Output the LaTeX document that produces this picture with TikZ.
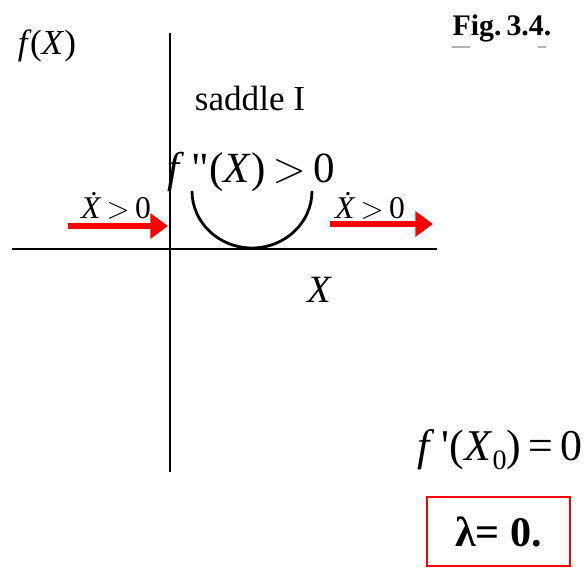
\documentclass[tikz,border=0pt]{standalone}
\usepackage{fontspec}
\setmainfont{Liberation Serif}
\usepackage{xcolor}
\usetikzlibrary{arrows.meta,positioning}

\begin{document}
\begin{tikzpicture}[
x=0.02cm, y=-0.02cm,
axis/.style={line width=1.6pt},
lbl/.style={inner sep=0pt, font=\fontsize{20}{22}\selectfont},
biglbl/.style={inner sep=0pt, font=\fontsize{24.5}{27}\selectfont},
ratelbl/.style={inner sep=0pt, font=\fontsize{18}{20}\selectfont},
flow/.style={-{Triangle[length=10pt,width=14pt]}, line width=3.4pt, red},
resultbox/.style={draw=red, line width=1pt, minimum width=143*0.02cm, minimum height=69*0.02cm, font=\fontsize{24}{26}\selectfont\bfseries}
]
\useasboundingbox (0,0) rectangle (586,571);

% axes
\coordinate (ytop) at (170,33);
\coordinate (ybot) at (170,472);
\coordinate (xleft) at (12,249);
\coordinate (xright) at (437,249);
\draw[axis] (ytop) -- (ybot);
\draw[axis] (xleft) -- (xright);

% labels
\node[lbl] (fx) at (47,46) {\textit{f}\kern-1pt(\textit{X})};
\node[lbl, font=\fontsize{17}{19}\selectfont\bfseries] (fig) at (502,28) {Fig.\,3.4.};
\draw[gray!60, line width=1pt] (452,47) -- (470,47) (538,47) -- (546,47);
\node[lbl] (saddle) at (250,98) {saddle I};
\node[biglbl] (curv) at (251,172) {\textit{f}\,\textquotedbl(\textit{X})\,$>$\,0};
\node[lbl, font=\fontsize{22}{24}\selectfont] (xlab) at (320,290) {\textit{X}};

% the well
\draw[line width=1.6pt] (252,191) ++(180:60) arc[start angle=180, end angle=0, x radius=60, y radius=57];

% flow to the right
\coordinate (la) at (68,226);
\coordinate (lb) at (168,226);
\coordinate (ra) at (330,224);
\coordinate (rb) at (433,224);
\draw[flow] (la) -- (lb);
\draw[flow] (ra) -- (rb);
\node[ratelbl] (rateL) at (116,206) {\textit{Ẋ}\,$>$\,0};
\node[ratelbl] (rateR) at (370,206) {\textit{Ẋ}\,$>$\,0};

% condition and result
\node[biglbl, font=\fontsize{25}{27}\selectfont] (cond) at (500,450) {\textit{f}\,\textquotesingle(\textit{X}\raisebox{-5pt}{\fontsize{16}{18}\selectfont 0})\,=\,0};
\node[resultbox] (lam) at (498.5,531.5) {λ= 0.};
\end{tikzpicture}
\end{document}
